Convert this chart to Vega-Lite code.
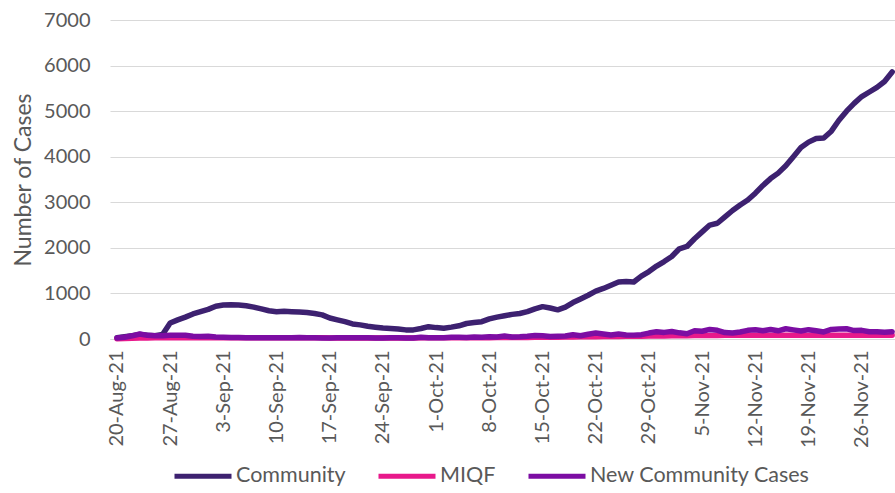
{
  "$schema": "https://vega.github.io/schema/vega-lite/v6.json",
  "autosize": "none",
  "width": 785,
  "height": 319,
  "padding": {"left": 110, "top": 20, "right": 0, "bottom": 154},
  "background": "white",
  "config": {
    "view": {"stroke": null},
    "font": "Lato",
    "axis": {"labelFont": "Lato", "titleFont": "Lato", "labelColor": "#595959", "titleColor": "#595959"},
    "legend": {"labelFont": "Lato"}
  },
  "data": {
    "values": [
      {"date": "2021-08-20", "Community": 30, "MIQF": 5, "New Community Cases": 20},
      {"date": "2021-08-21", "Community": 50, "MIQF": 10, "New Community Cases": 40},
      {"date": "2021-08-22", "Community": 70, "MIQF": 15, "New Community Cases": 70},
      {"date": "2021-08-23", "Community": 100, "MIQF": 20, "New Community Cases": 110},
      {"date": "2021-08-24", "Community": 80, "MIQF": 20, "New Community Cases": 80},
      {"date": "2021-08-25", "Community": 70, "MIQF": 25, "New Community Cases": 70},
      {"date": "2021-08-26", "Community": 100, "MIQF": 25, "New Community Cases": 70},
      {"date": "2021-08-27", "Community": 350, "MIQF": 25, "New Community Cases": 80},
      {"date": "2021-08-28", "Community": 420, "MIQF": 30, "New Community Cases": 85},
      {"date": "2021-08-29", "Community": 480, "MIQF": 30, "New Community Cases": 80},
      {"date": "2021-08-30", "Community": 550, "MIQF": 30, "New Community Cases": 60},
      {"date": "2021-08-31", "Community": 600, "MIQF": 30, "New Community Cases": 55},
      {"date": "2021-09-01", "Community": 650, "MIQF": 30, "New Community Cases": 60},
      {"date": "2021-09-02", "Community": 720, "MIQF": 30, "New Community Cases": 45},
      {"date": "2021-09-03", "Community": 745, "MIQF": 30, "New Community Cases": 40},
      {"date": "2021-09-04", "Community": 750, "MIQF": 30, "New Community Cases": 35},
      {"date": "2021-09-05", "Community": 745, "MIQF": 30, "New Community Cases": 35},
      {"date": "2021-09-06", "Community": 730, "MIQF": 30, "New Community Cases": 30},
      {"date": "2021-09-07", "Community": 700, "MIQF": 30, "New Community Cases": 30},
      {"date": "2021-09-08", "Community": 660, "MIQF": 30, "New Community Cases": 25},
      {"date": "2021-09-09", "Community": 620, "MIQF": 30, "New Community Cases": 25},
      {"date": "2021-09-10", "Community": 600, "MIQF": 25, "New Community Cases": 30},
      {"date": "2021-09-11", "Community": 610, "MIQF": 25, "New Community Cases": 30},
      {"date": "2021-09-12", "Community": 600, "MIQF": 25, "New Community Cases": 30},
      {"date": "2021-09-13", "Community": 590, "MIQF": 25, "New Community Cases": 35},
      {"date": "2021-09-14", "Community": 580, "MIQF": 25, "New Community Cases": 25},
      {"date": "2021-09-15", "Community": 560, "MIQF": 25, "New Community Cases": 25},
      {"date": "2021-09-16", "Community": 530, "MIQF": 25, "New Community Cases": 20},
      {"date": "2021-09-17", "Community": 460, "MIQF": 20, "New Community Cases": 20},
      {"date": "2021-09-18", "Community": 420, "MIQF": 20, "New Community Cases": 25},
      {"date": "2021-09-19", "Community": 380, "MIQF": 20, "New Community Cases": 30},
      {"date": "2021-09-20", "Community": 330, "MIQF": 20, "New Community Cases": 25},
      {"date": "2021-09-21", "Community": 310, "MIQF": 20, "New Community Cases": 25},
      {"date": "2021-09-22", "Community": 280, "MIQF": 20, "New Community Cases": 25},
      {"date": "2021-09-23", "Community": 260, "MIQF": 20, "New Community Cases": 20},
      {"date": "2021-09-24", "Community": 240, "MIQF": 20, "New Community Cases": 20},
      {"date": "2021-09-25", "Community": 230, "MIQF": 20, "New Community Cases": 25},
      {"date": "2021-09-26", "Community": 220, "MIQF": 20, "New Community Cases": 25},
      {"date": "2021-09-27", "Community": 200, "MIQF": 20, "New Community Cases": 20},
      {"date": "2021-09-28", "Community": 200, "MIQF": 20, "New Community Cases": 20},
      {"date": "2021-09-29", "Community": 230, "MIQF": 25, "New Community Cases": 40},
      {"date": "2021-09-30", "Community": 270, "MIQF": 25, "New Community Cases": 25},
      {"date": "2021-10-01", "Community": 250, "MIQF": 25, "New Community Cases": 25},
      {"date": "2021-10-02", "Community": 235, "MIQF": 25, "New Community Cases": 30},
      {"date": "2021-10-03", "Community": 260, "MIQF": 25, "New Community Cases": 40},
      {"date": "2021-10-04", "Community": 290, "MIQF": 30, "New Community Cases": 40},
      {"date": "2021-10-05", "Community": 340, "MIQF": 30, "New Community Cases": 35},
      {"date": "2021-10-06", "Community": 360, "MIQF": 30, "New Community Cases": 45},
      {"date": "2021-10-07", "Community": 380, "MIQF": 30, "New Community Cases": 40},
      {"date": "2021-10-08", "Community": 440, "MIQF": 30, "New Community Cases": 50},
      {"date": "2021-10-09", "Community": 480, "MIQF": 35, "New Community Cases": 45},
      {"date": "2021-10-10", "Community": 510, "MIQF": 35, "New Community Cases": 65},
      {"date": "2021-10-11", "Community": 540, "MIQF": 35, "New Community Cases": 45},
      {"date": "2021-10-12", "Community": 560, "MIQF": 35, "New Community Cases": 50},
      {"date": "2021-10-13", "Community": 600, "MIQF": 35, "New Community Cases": 60},
      {"date": "2021-10-14", "Community": 660, "MIQF": 40, "New Community Cases": 75},
      {"date": "2021-10-15", "Community": 710, "MIQF": 40, "New Community Cases": 70},
      {"date": "2021-10-16", "Community": 680, "MIQF": 40, "New Community Cases": 55},
      {"date": "2021-10-17", "Community": 640, "MIQF": 40, "New Community Cases": 60},
      {"date": "2021-10-18", "Community": 700, "MIQF": 45, "New Community Cases": 65},
      {"date": "2021-10-19", "Community": 800, "MIQF": 45, "New Community Cases": 95},
      {"date": "2021-10-20", "Community": 880, "MIQF": 50, "New Community Cases": 70},
      {"date": "2021-10-21", "Community": 960, "MIQF": 50, "New Community Cases": 105},
      {"date": "2021-10-22", "Community": 1050, "MIQF": 50, "New Community Cases": 130},
      {"date": "2021-10-23", "Community": 1110, "MIQF": 55, "New Community Cases": 110},
      {"date": "2021-10-24", "Community": 1180, "MIQF": 55, "New Community Cases": 90},
      {"date": "2021-10-25", "Community": 1250, "MIQF": 55, "New Community Cases": 110},
      {"date": "2021-10-26", "Community": 1260, "MIQF": 60, "New Community Cases": 90},
      {"date": "2021-10-27", "Community": 1250, "MIQF": 60, "New Community Cases": 85},
      {"date": "2021-10-28", "Community": 1380, "MIQF": 60, "New Community Cases": 95},
      {"date": "2021-10-29", "Community": 1480, "MIQF": 65, "New Community Cases": 130},
      {"date": "2021-10-30", "Community": 1600, "MIQF": 65, "New Community Cases": 160},
      {"date": "2021-10-31", "Community": 1700, "MIQF": 65, "New Community Cases": 145},
      {"date": "2021-11-01", "Community": 1810, "MIQF": 70, "New Community Cases": 165},
      {"date": "2021-11-02", "Community": 1980, "MIQF": 70, "New Community Cases": 135},
      {"date": "2021-11-03", "Community": 2030, "MIQF": 70, "New Community Cases": 115},
      {"date": "2021-11-04", "Community": 2200, "MIQF": 75, "New Community Cases": 180},
      {"date": "2021-11-05", "Community": 2350, "MIQF": 75, "New Community Cases": 170},
      {"date": "2021-11-06", "Community": 2500, "MIQF": 75, "New Community Cases": 210},
      {"date": "2021-11-07", "Community": 2540, "MIQF": 75, "New Community Cases": 190},
      {"date": "2021-11-08", "Community": 2680, "MIQF": 80, "New Community Cases": 140},
      {"date": "2021-11-09", "Community": 2820, "MIQF": 80, "New Community Cases": 130},
      {"date": "2021-11-10", "Community": 2940, "MIQF": 80, "New Community Cases": 155},
      {"date": "2021-11-11", "Community": 3050, "MIQF": 80, "New Community Cases": 190},
      {"date": "2021-11-12", "Community": 3200, "MIQF": 80, "New Community Cases": 205},
      {"date": "2021-11-13", "Community": 3370, "MIQF": 80, "New Community Cases": 180},
      {"date": "2021-11-14", "Community": 3520, "MIQF": 80, "New Community Cases": 210},
      {"date": "2021-11-15", "Community": 3640, "MIQF": 85, "New Community Cases": 180},
      {"date": "2021-11-16", "Community": 3800, "MIQF": 85, "New Community Cases": 225},
      {"date": "2021-11-17", "Community": 4000, "MIQF": 85, "New Community Cases": 200},
      {"date": "2021-11-18", "Community": 4200, "MIQF": 85, "New Community Cases": 175},
      {"date": "2021-11-19", "Community": 4320, "MIQF": 85, "New Community Cases": 205},
      {"date": "2021-11-20", "Community": 4400, "MIQF": 85, "New Community Cases": 180},
      {"date": "2021-11-21", "Community": 4410, "MIQF": 85, "New Community Cases": 155},
      {"date": "2021-11-22", "Community": 4560, "MIQF": 85, "New Community Cases": 210},
      {"date": "2021-11-23", "Community": 4800, "MIQF": 85, "New Community Cases": 220},
      {"date": "2021-11-24", "Community": 5000, "MIQF": 85, "New Community Cases": 225},
      {"date": "2021-11-25", "Community": 5170, "MIQF": 85, "New Community Cases": 185},
      {"date": "2021-11-26", "Community": 5320, "MIQF": 80, "New Community Cases": 190},
      {"date": "2021-11-27", "Community": 5420, "MIQF": 80, "New Community Cases": 160},
      {"date": "2021-11-28", "Community": 5520, "MIQF": 80, "New Community Cases": 160},
      {"date": "2021-11-29", "Community": 5650, "MIQF": 80, "New Community Cases": 150},
      {"date": "2021-11-30", "Community": 5860, "MIQF": 80, "New Community Cases": 160}
    ]
  },
  "transform": [
    {"fold": ["Community", "MIQF", "New Community Cases"], "as": ["series", "value"]}
  ],
  "mark": {"type": "line", "strokeWidth": 5.5, "strokeCap": "round", "strokeJoin": "round", "clip": false},
  "encoding": {
    "x": {
      "field": "date",
      "type": "temporal",
      "scale": {
        "type": "utc",
        "domain": [
          {"year": 2021, "month": 8, "date": 19, "hours": 2, "utc": true},
          {"year": 2021, "month": 11, "date": 30, "hours": 9, "utc": true}
        ]
      },
      "axis": {
        "title": null,
        "format": "%-d-%b-%y",
        "values": [
          {"year": 2021, "month": 8, "date": 20, "utc": true},
          {"year": 2021, "month": 8, "date": 27, "utc": true},
          {"year": 2021, "month": 9, "date": 3, "utc": true},
          {"year": 2021, "month": 9, "date": 10, "utc": true},
          {"year": 2021, "month": 9, "date": 17, "utc": true},
          {"year": 2021, "month": 9, "date": 24, "utc": true},
          {"year": 2021, "month": 10, "date": 1, "utc": true},
          {"year": 2021, "month": 10, "date": 8, "utc": true},
          {"year": 2021, "month": 10, "date": 15, "utc": true},
          {"year": 2021, "month": 10, "date": 22, "utc": true},
          {"year": 2021, "month": 10, "date": 29, "utc": true},
          {"year": 2021, "month": 11, "date": 5, "utc": true},
          {"year": 2021, "month": 11, "date": 12, "utc": true},
          {"year": 2021, "month": 11, "date": 19, "utc": true},
          {"year": 2021, "month": 11, "date": 26, "utc": true}
        ],
        "labelAngle": -90,
        "labelFontSize": 20,
        "labelPadding": 11,
        "ticks": false,
        "grid": false,
        "domain": true,
        "domainColor": "#D9D9D9",
        "labelOverlap": false,
        "labelBound": false,
        "labelFlush": false
      }
    },
    "y": {
      "field": "value",
      "type": "quantitative",
      "scale": {"domain": [0, 7000], "nice": false},
      "axis": {
        "title": "Number of Cases",
        "titleFontSize": 23,
        "titleFontWeight": "normal",
        "titlePadding": 8,
        "format": "d",
        "values": [0, 1000, 2000, 3000, 4000, 5000, 6000, 7000],
        "labelFontSize": 20,
        "labelPadding": 20,
        "ticks": false,
        "domain": false,
        "grid": true,
        "gridColor": "#D9D9D9",
        "gridWidth": 1
      }
    },
    "color": {
      "field": "series",
      "type": "nominal",
      "scale": {
        "domain": ["Community", "MIQF", "New Community Cases"],
        "range": ["#3D2170", "#E8198B", "#7C0DA3"]
      },
      "legend": {
        "title": null,
        "orient": "none",
        "direction": "horizontal",
        "legendX": 62,
        "legendY": 425,
        "symbolType": "stroke",
        "symbolSize": 3249,
        "symbolStrokeWidth": 5,
        "labelFontSize": 21.5,
        "labelColor": "#595959",
        "labelOffset": 2,
        "columnPadding": 22,
        "labelLimit": 400
      }
    }
  }
}
